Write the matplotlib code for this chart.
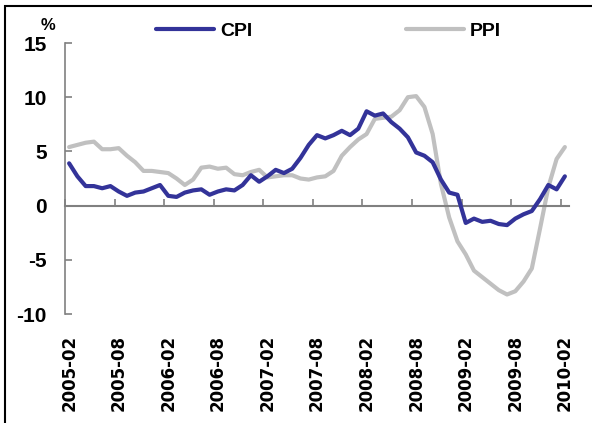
import numpy as np
import matplotlib
matplotlib.use("Agg")
import matplotlib.pyplot as plt
from matplotlib.patches import Rectangle

# months 2005-02 .. 2010-02
months = ["2005-02", "2005-03", "2005-04", "2005-05", "2005-06", "2005-07", "2005-08", "2005-09",
          "2005-10", "2005-11", "2005-12", "2006-01", "2006-02", "2006-03", "2006-04", "2006-05",
          "2006-06", "2006-07", "2006-08", "2006-09", "2006-10", "2006-11", "2006-12", "2007-01",
          "2007-02", "2007-03", "2007-04", "2007-05", "2007-06", "2007-07", "2007-08", "2007-09",
          "2007-10", "2007-11", "2007-12", "2008-01", "2008-02", "2008-03", "2008-04", "2008-05",
          "2008-06", "2008-07", "2008-08", "2008-09", "2008-10", "2008-11", "2008-12", "2009-01",
          "2009-02", "2009-03", "2009-04", "2009-05", "2009-06", "2009-07", "2009-08", "2009-09",
          "2009-10", "2009-11", "2009-12", "2010-01", "2010-02"]

cpi = [3.9, 2.7, 1.8, 1.8, 1.6, 1.8, 1.3, 0.9, 1.2, 1.3, 1.6,
       1.9, 0.9, 0.8, 1.2, 1.4, 1.5, 1.0, 1.3, 1.5, 1.4, 1.9, 2.8,
       2.2, 2.7, 3.3, 3.0, 3.4, 4.4, 5.6, 6.5, 6.2, 6.5, 6.9, 6.5,
       7.1, 8.7, 8.3, 8.5, 7.7, 7.1, 6.3, 4.9, 4.6, 4.0, 2.4, 1.2,
       1.0, -1.6, -1.2, -1.5, -1.4, -1.7, -1.8, -1.2, -0.8, -0.5, 0.6, 1.9,
       1.5, 2.7]

ppi = [5.4, 5.6, 5.8, 5.9, 5.2, 5.2, 5.3, 4.6, 4.0, 3.2, 3.2,
       3.1, 3.0, 2.5, 1.9, 2.4, 3.5, 3.6, 3.4, 3.5, 2.9, 2.8, 3.1,
       3.3, 2.6, 2.7, 2.8, 2.8, 2.5, 2.4, 2.6, 2.7, 3.2, 4.6, 5.4,
       6.1, 6.6, 8.0, 8.1, 8.2, 8.8, 10.0, 10.1, 9.1, 6.6, 2.0, -1.1,
       -3.3, -4.5, -6.0, -6.6, -7.2, -7.8, -8.2, -7.9, -7.0, -5.8, -2.1, 1.7,
       4.3, 5.4]

yticks = [-10, -5, 0, 5, 10, 15]

fig = plt.figure(figsize=(5.92, 4.23), dpi=100)
ax = fig.add_axes([65 / 592, 1 - 314 / 423, (569 - 65) / 592, (314 - 43) / 423])

x = np.arange(len(months))
ax.plot(x, cpi, color="#333399", lw=3, label="CPI", solid_capstyle="round", zorder=3)
ax.plot(x, ppi, color="#c0c0c0", lw=3, label="PPI", solid_capstyle="round", zorder=2)

ax.set_xlim(-0.5, len(months) - 0.5)
ax.set_ylim(-10, 15)

for s in ["top", "right"]:
    ax.spines[s].set_visible(False)
ax.spines["left"].set_color("#808080")
ax.spines["bottom"].set_color("#808080")
ax.spines["bottom"].set_position(("data", 0))
ax.spines["left"].set_linewidth(1.2)
ax.spines["bottom"].set_linewidth(1.5)

# boundary ticks on the zero line, pointing up
ax.set_xticks(np.arange(-0.5, len(months), 6))
ax.set_xticklabels([])
ax.tick_params(axis="x", direction="in", length=5, width=1.2, color="#808080")

ax.set_yticks(yticks)
ax.set_yticklabels([str(v) for v in yticks], fontsize=15, fontweight="bold",
                   family="Liberation Sans")
ax.tick_params(axis="y", direction="in", length=5, width=1.2, color="#808080", pad=13)

# month labels at the bottom
sec = ax.secondary_xaxis("bottom")
sec.spines["bottom"].set_visible(False)
sec.set_xticks(x[::6])
sec.set_xticklabels(months[::6], rotation=90, fontsize=12, fontweight="bold",
                    family="DejaVu Sans")
sec.tick_params(axis="x", length=0, pad=15)

fig.text(48 / 592, 1 - 25 / 423, "%", fontsize=12, fontweight="bold",
         ha="center", va="center", family="Liberation Sans")

fig.legend(loc="center left", bbox_to_anchor=(156 / 592, 1 - 31 / 423), ncol=2,
           frameon=False, handlelength=3.0, handletextpad=0.3, columnspacing=7.9,
           borderpad=0, borderaxespad=0,
           prop={"family": "Liberation Sans", "size": 14, "weight": "bold"})

# outer frame (only top/left visible in the crop)
fig.patches.append(Rectangle((5 / 592, -0.1), 1.2, (1 - 6 / 423) + 0.1,
                             transform=fig.transFigure, fill=False, ec="black", lw=1.5))

fig.savefig("out.png", dpi=100)
